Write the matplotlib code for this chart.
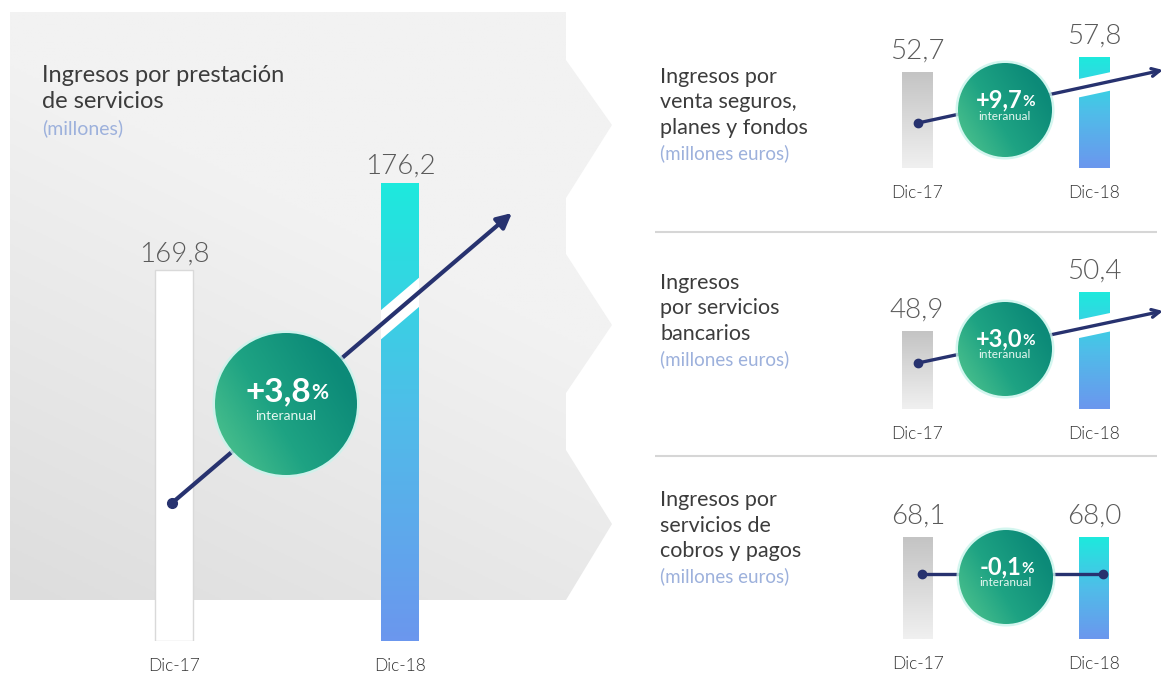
import numpy as np
import matplotlib.pyplot as plt
from matplotlib.patches import Polygon, Circle
from matplotlib.colors import LinearSegmentedColormap

plt.rcParams['font.family'] = ['Lato', 'DejaVu Sans']

# ───────────────────────────────────────────────────────
# datos
categories = ["Dic-17", "Dic-18"]
titles = ["Ingresos por prestación\nde servicios",
          "Ingresos por\nventa seguros,\nplanes y fondos",
          "Ingresos\npor servicios\nbancarios",
          "Ingresos por\nservicios de\ncobros y pagos"]
units = ["(millones)", "(millones euros)", "(millones euros)", "(millones euros)"]
values_dic17 = [169.8, 52.7, 48.9, 68.1]
values_dic18 = [176.2, 57.8, 50.4, 68.0]
growth = ["+3,8", "+9,7", "+3,0", "-0,1"]
# base del eje y de cada panel (las barras están recortadas)
y_base = [142.6, 21.0, 45.9, 0.0]

# ───────────────────────────────────────────────────────
# layout en pixeles
W, H = 1164, 675
panels = [
    # c0, c1, top, bottom, bar width px, value gap pt
    dict(c0=174, c1=400, top=183, bottom=641, bw=38, gap=3),
    dict(c0=917, c1=1094, top=57, bottom=168, bw=31, gap=6),
    dict(c0=917, c1=1094, top=292, bottom=409, bw=31, gap=6),
    dict(c0=918, c1=1094, top=537, bottom=639, bw=30, gap=6),
]
title_pos = [(42, 75, 26.5, 17, 14), (660, 77, 25.5, 15.5, 13.5),
             (660, 283, 25.5, 15.5, 13.5), (660, 500, 25.5, 15.5, 13.5)]
circles = [(286, 404, 71), (1005, 110, 47), (1005, 349, 47), (1006, 577, 47)]
arrows = [((172, 503), (512, 213)), ((918, 123), (1163, 70)),
          ((918, 363), (1163, 311)), ((922, 574), (1103, 574))]

NAVY = "#27326f"
cm_gray = LinearSegmentedColormap.from_list("g", ["#c4c4c4", "#f0f0f0"])
cm_blue = LinearSegmentedColormap.from_list("b", ["#1ee9dd", "#4fbde9", "#6b97ee"])
cm_white = LinearSegmentedColormap.from_list("w", ["#ffffff", "#ffffff"])
cm_green = LinearSegmentedColormap.from_list("c", ["#55c78f", "#1ea383", "#0c8a78"])
cm_bg = LinearSegmentedColormap.from_list("bg", ["#dddddd", "#f2f2f2"])

fig = plt.figure(figsize=(W / 100, H / 100), dpi=100)
fig.patch.set_facecolor("white")

# ───────────────────────────────────────────────────────
# fondo
bg = fig.add_axes([0, 0, 1, 1], zorder=0)
bg.axis("off")

shape = Polygon([(10, 12), (566, 12), (566, 60), (612, 125), (566, 198), (566, 254),
                 (612, 325), (566, 393), (566, 450), (612, 524), (566, 600), (10, 600)],
                closed=True, facecolor="none", edgecolor="none")
bg.add_patch(shape)
gx, gy = np.meshgrid(np.linspace(0, 1, 200), np.linspace(0, 1, 200))
grad = np.clip(gx * 0.55 + gy * 1.1, 0, 1)
im = bg.imshow(grad, cmap=cm_bg, extent=[10, 612, 600, 12], aspect="auto", origin="lower")
im.set_clip_path(shape)
bg.set_xlim(0, W)
bg.set_ylim(H, 0)

for ysep in [232, 456]:
    bg.plot([655, 1157], [ysep, ysep], color="#d6d6d6", lw=1.5, solid_capstyle="butt")

for i, (tx, ty, step, fs, fs_u) in enumerate(title_pos):
    lines = titles[i].split("\n")
    for k, line in enumerate(lines):
        bg.text(tx, ty + k * step, line, fontsize=fs, color="#3c3c3c", ha="left", va="center")
    bg.text(tx, ty + len(lines) * step, units[i], fontsize=fs_u, color="#9db1dc",
            ha="left", va="center")

# ───────────────────────────────────────────────────────
# barras
bar_patches = []
for i, p in enumerate(panels):
    span = p["c1"] - p["c0"]
    left = p["c0"] - span / 2
    ax = fig.add_axes([left / W, (H - p["bottom"]) / H, 2 * span / W, (p["bottom"] - p["top"]) / H],
                      zorder=1)
    ax.patch.set_alpha(0)
    vals = [values_dic17[i], values_dic18[i]]
    base = y_base[i]
    bw = p["bw"] / span
    bars = ax.bar([0, 1], [v - base for v in vals], bottom=base, width=bw,
                  color="none", edgecolor="none")
    cmaps = [cm_white if i == 0 else cm_gray, cm_blue]
    for j, b in enumerate(bars):
        x0, w_ = b.get_x(), b.get_width()
        g = np.linspace(0, 1, 100).reshape(-1, 1)
        img = ax.imshow(g, cmap=cmaps[j], extent=[x0, x0 + w_, base, vals[j]],
                        aspect="auto", origin="upper", zorder=1)
        img.set_clip_path(b)
        ax.annotate(f"{vals[j]:.1f}".replace(".", ","), xy=(j, vals[j]),
                    xytext=(0, p["gap"]), textcoords="offset points", ha="center", va="bottom",
                    fontsize=20, color="#5a5a5a", fontweight=300, annotation_clip=False)
    if i == 0:
        bars[0].set_edgecolor("#d9d9d9")
        bars[0].set_linewidth(1)
        bars[0].set_zorder(2)
    bar_patches.append(bars[1])
    ax.set_xlim(-0.5, 1.5)
    ax.set_ylim(base, max(vals))
    ax.set_xticks([0, 1], categories)
    for lab in ax.get_xticklabels():
        lab.set_fontweight(300)
    ax.set_yticks([])
    ax.tick_params(axis="x", length=0, pad=12, labelsize=12.5, labelcolor="#333333")
    for s in ax.spines.values():
        s.set_visible(False)

# ───────────────────────────────────────────────────────
# flechas y circulos
ov = fig.add_axes([0, 0, 1, 1], zorder=3)
ov.patch.set_alpha(0)
ov.set_xlim(0, W)
ov.set_ylim(H, 0)
ov.axis("off")

for i, ((x0, y0), (x1, y1)) in enumerate(arrows):
    if i == 3:
        ov.plot([x0, x1], [y0, y1], color=NAVY, lw=2.4, zorder=2)
        ov.plot([x0, x1], [y0, y1], "o", color=NAVY, ms=6, zorder=2)
        continue
    halo, = ov.plot([x0, x1], [y0, y1], color="white", lw=16 if i == 0 else 13,
                    solid_capstyle="butt", zorder=1)
    halo.set_clip_path(bar_patches[i])
    ov.annotate("", xy=(x1, y1), xytext=(x0, y0), zorder=2,
                arrowprops=dict(arrowstyle="-|>" if i == 0 else "->", color=NAVY,
                                lw=3 if i == 0 else 2.4,
                                mutation_scale=22 if i == 0 else 14,
                                shrinkA=0, shrinkB=0))
    ov.plot([x0], [y0], "o", color=NAVY, ms=7 if i == 0 else 6, zorder=2)

for i, (cx, cy, r) in enumerate(circles):
    ov.add_patch(Circle((cx, cy), r + 2.5, facecolor="#c9f4ec", edgecolor="none",
                        alpha=0.8, zorder=4))
    circ = Circle((cx, cy), r, facecolor="none", edgecolor="none", zorder=5)
    ov.add_patch(circ)
    gx, gy = np.meshgrid(np.linspace(0, 1, 120), np.linspace(0, 1, 120))
    cg = np.clip(gx * 0.75 + (1 - gy) * 0.45, 0, 1)
    img = ov.imshow(cg, cmap=cm_green, extent=[cx - r, cx + r, cy + r, cy - r],
                    aspect="auto", origin="upper", zorder=5)
    img.set_clip_path(circ)
    big = 24 if i == 0 else 17
    small = 15 if i == 0 else 11
    shift = 8 if i == 0 else 5.5
    t1 = ov.text(cx - shift, cy - (12 if i == 0 else 10), growth[i], fontsize=big,
                 fontweight="bold", color="white", ha="center", va="center", zorder=6)
    ov.annotate("%", xy=(1, 0.12), xycoords=t1, ha="left", va="bottom", fontsize=small,
                fontweight="bold", color="white", zorder=6)
    ov.text(cx, cy + (12 if i == 0 else 6), "interanual", fontsize=10 if i == 0 else 8.5,
            color="#e6f7f1", ha="center", va="center", zorder=6)

fig.savefig("out.png", dpi=100)
